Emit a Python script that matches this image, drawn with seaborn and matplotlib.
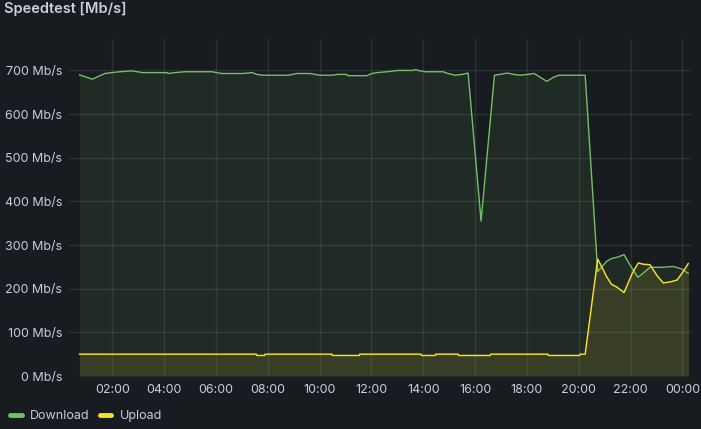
import numpy as np
import pandas as pd
import matplotlib
matplotlib.use("Agg")
import matplotlib.pyplot as plt
import matplotlib.dates as mdates
from matplotlib.lines import Line2D
import seaborn as sns

# values (Mb/s), last 24h
download_times = ["00:44", "01:14", "01:43", "01:59", "02:18", "02:45", "03:11", "04:07", "04:09",
                  "04:25", "04:48", "05:51", "06:14", "07:03", "07:24", "07:35", "07:49", "08:47",
                  "09:08", "09:38", "10:01", "10:29", "10:43", "11:03", "11:06", "11:50", "12:01",
                  "12:13", "12:36", "13:02", "13:36", "13:43", "13:48", "14:04", "14:39", "14:46",
                  "14:57", "15:14", "15:30", "15:44", "16:14", "16:45", "16:58", "17:15", "17:29",
                  "17:44", "18:03", "18:17", "18:30", "18:46", "19:01", "19:14", "20:15", "20:44",
                  "20:57", "21:05", "21:16", "21:32", "21:45", "21:59", "22:17", "22:30", "22:45",
                  "23:12", "23:39", "23:59", "00:14"]
download_vals = [690, 680, 693, 695, 697, 699, 695, 695, 693,
                 695, 697, 697, 693, 693, 695, 691, 689, 689,
                 693, 693, 689, 689, 691, 691, 688, 688, 693,
                 695, 697, 700, 700, 702, 700, 697, 697, 697,
                 693, 689, 691, 694, 355, 689, 691, 694, 691,
                 689, 691, 693, 685, 675, 684, 689, 689, 239,
                 254, 263, 269, 273, 278, 254, 226, 236, 249,
                 249, 251, 245, 235]

upload_times = ["00:44", "07:34", "07:35", "07:53", "07:54", "10:29", "10:30", "11:32", "11:33",
                "13:55", "13:56", "14:28", "14:29", "15:21", "15:22", "16:35", "16:36", "18:49",
                "18:50", "20:02", "20:03", "20:15", "20:44", "21:05", "21:16", "21:28", "21:45",
                "22:04", "22:18", "22:30", "22:45", "23:02", "23:16", "23:34", "23:48", "23:59",
                "00:14"]
upload_vals = [50, 50, 47, 47, 50, 50, 47, 47, 50,
               50, 47, 47, 50, 50, 47, 47, 50, 50,
               47, 47, 50, 50, 268, 227, 210, 204, 191,
               235, 259, 256, 255, 229, 213, 216, 220, 235,
               258]


def to_stamps(times, day="2024-05-01"):
    out = []
    base = pd.Timestamp(day)
    prev = None
    for t in times:
        ts = base + pd.Timedelta(hours=int(t[:2]), minutes=int(t[3:]))
        if prev is not None and ts < prev:
            base = base + pd.Timedelta(days=1)
            ts = ts + pd.Timedelta(days=1)
        out.append(ts)
        prev = ts
    return out


down = pd.DataFrame({"time": to_stamps(download_times), "speed": download_vals})
up = pd.DataFrame({"time": to_stamps(upload_times), "speed": upload_vals})

bg = "#181b1f"
txt = "#ccccdc"
green = "#73bf69"
yellow = "#fade2a"

sns.set_style("dark")
plt.rcParams["font.family"] = ["Inter", "DejaVu Sans"]

fig = plt.figure(figsize=(7.01, 4.29), dpi=100, facecolor=bg)
ax = fig.add_axes([69 / 701, 1 - 376 / 429, 622 / 701, 337 / 429])
ax.set_facecolor(bg)

ax.fill_between(down["time"], down["speed"], color=green, alpha=0.1, lw=0, zorder=2)
ax.fill_between(up["time"], up["speed"], color=yellow, alpha=0.11, lw=0, zorder=2)
sns.lineplot(data=down, x="time", y="speed", color=green, lw=1, ax=ax, zorder=3)
sns.lineplot(data=up, x="time", y="speed", color=yellow, lw=1.05, ax=ax, zorder=4)

ax.set_xlim(pd.Timestamp("2024-05-01 00:20"), pd.Timestamp("2024-05-02 00:20"))
ax.set_ylim(0, 772)
ax.set_yticks(range(0, 701, 100))
ax.yaxis.set_major_formatter(lambda v, p: f"{int(v)} Mb/s")
ax.xaxis.set_major_locator(mdates.HourLocator(byhour=range(0, 24, 2)))
ax.xaxis.set_major_formatter(mdates.DateFormatter("%H:%M"))
ax.set_xlabel("")
ax.set_ylabel("")
ax.grid(True, color="#f0faff", alpha=0.09, lw=1, zorder=0)
ax.set_axisbelow(True)
for s in ax.spines.values():
    s.set_visible(False)
ax.tick_params(length=0, colors=txt, labelsize=9)
ax.tick_params(axis="y", pad=5)
ax.tick_params(axis="x", pad=6)

fig.text(4 / 701, 1 - 9 / 429, "Speedtest [Mb/s]", color=txt, fontsize=10.5,
         fontweight="semibold", va="center", ha="left")

handles = [Line2D([], [], color=green, lw=3.5, solid_capstyle="round"),
           Line2D([], [], color=yellow, lw=3.5, solid_capstyle="round")]
leg = fig.legend(handles, ["Download", "Upload"], loc="center left",
                 bbox_to_anchor=(-1 / 701, 1 - 416 / 429), ncol=2, frameon=False,
                 handlelength=0.9, handletextpad=0.7, columnspacing=0.8,
                 fontsize=9)
for t in leg.get_texts():
    t.set_color(txt)

fig.savefig("out.png", dpi=100, facecolor=bg)
